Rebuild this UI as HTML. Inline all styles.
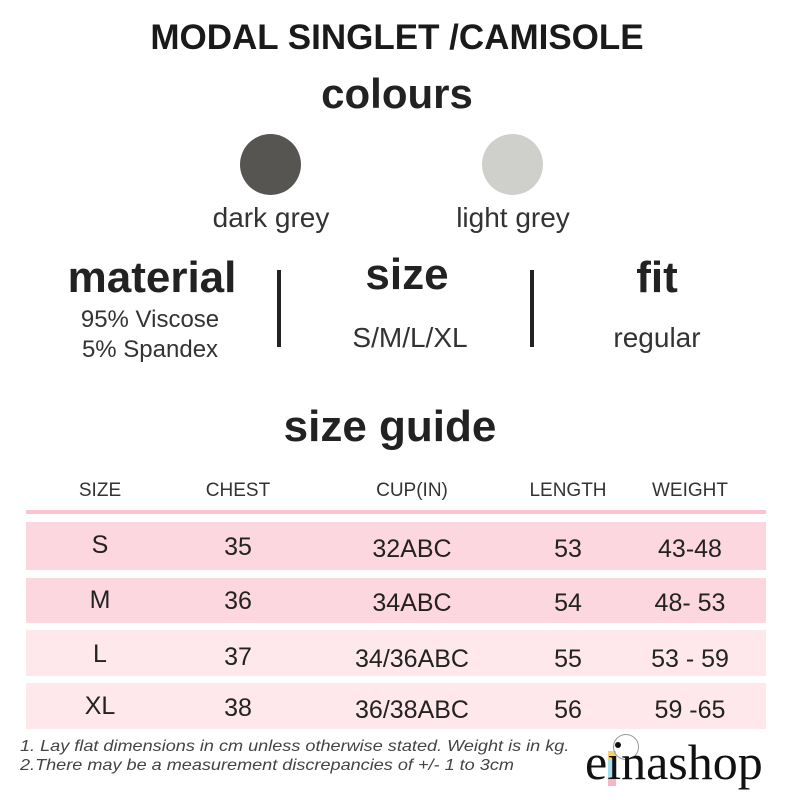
<!DOCTYPE html>
<html><head><meta charset="utf-8"><style>
body{margin:0;width:800px;height:800px;background:#fff;position:relative;overflow:hidden;font-family:"Liberation Sans","DejaVu Sans",sans-serif;color:#222}
.t{position:absolute;white-space:nowrap;text-align:center;transform:translateX(-50%)}
.b{position:absolute;left:26px;width:740px}
.bar{position:absolute;width:4px;background:#222;top:270px;height:77px}
.h{font-size:19px;color:#333;top:480px}
.r{font-size:25px;color:#222}
</style></head><body>
<div class="t" style="left:397px;top:18px;font-size:35px;font-weight:bold;color:#1a1a1a">MODAL SINGLET /CAMISOLE</div>
<div class="t" style="left:397px;top:70px;font-size:42px;font-weight:bold;color:#222">colours</div>
<div style="position:absolute;left:240px;top:134px;width:61px;height:61px;border-radius:50%;background:#575552"></div>
<div style="position:absolute;left:482px;top:134px;width:61px;height:61px;border-radius:50%;background:#cfcfcc"></div>
<div class="t" style="left:271px;top:202px;font-size:28px;color:#333">dark grey</div>
<div class="t" style="left:513px;top:202px;font-size:28px;color:#333">light grey</div>
<div class="t" style="left:152px;top:253px;font-size:44px;font-weight:bold">material</div>
<div class="t" style="left:150px;top:306px;font-size:24px;color:#333">95% Viscose</div>
<div class="t" style="left:150px;top:336px;font-size:24px;color:#333">5% Spandex</div>
<div class="bar" style="left:277px"></div>
<div class="bar" style="left:530px"></div>
<div class="t" style="left:407px;top:250px;font-size:44px;font-weight:bold">size</div>
<div class="t" style="left:410px;top:322px;font-size:28px;color:#333">S/M/L/XL</div>
<div class="t" style="left:657px;top:253px;font-size:44px;font-weight:bold">fit</div>
<div class="t" style="left:657px;top:322px;font-size:28px;color:#333">regular</div>
<div class="t" style="left:390px;top:402px;font-size:44px;font-weight:bold">size guide</div>
<div class="t h" style="left:100px">SIZE</div>
<div class="t h" style="left:238px">CHEST</div>
<div class="t h" style="left:412px">CUP(IN)</div>
<div class="t h" style="left:568px">LENGTH</div>
<div class="t h" style="left:690px">WEIGHT</div>
<div class="b" style="top:510px;height:4px;background:#fac5d1"></div>
<div class="b" style="top:522px;height:48px;background:#fdd7df"></div>
<div class="b" style="top:578px;height:45px;background:#fdd7df"></div>
<div class="b" style="top:630px;height:46px;background:#fee8ec"></div>
<div class="b" style="top:683px;height:46px;background:#fee8ec"></div>
<div class="t r" style="left:100px;top:531px">S</div><div class="t r" style="left:238px;top:533px">35</div><div class="t r" style="left:412px;top:535px">32ABC</div><div class="t r" style="left:568px;top:535px">53</div><div class="t r" style="left:690px;top:535px">43-48</div>
<div class="t r" style="left:100px;top:586px">M</div><div class="t r" style="left:238px;top:587px">36</div><div class="t r" style="left:412px;top:589px">34ABC</div><div class="t r" style="left:568px;top:589px">54</div><div class="t r" style="left:690px;top:589px">48- 53</div>
<div class="t r" style="left:100px;top:640px">L</div><div class="t r" style="left:238px;top:643px">37</div><div class="t r" style="left:412px;top:645px">34/36ABC</div><div class="t r" style="left:568px;top:645px">55</div><div class="t r" style="left:690px;top:645px">53 - 59</div>
<div class="t r" style="left:100px;top:692px">XL</div><div class="t r" style="left:238px;top:694px">38</div><div class="t r" style="left:412px;top:696px">36/38ABC</div><div class="t r" style="left:568px;top:696px">56</div><div class="t r" style="left:690px;top:696px">59 -65</div>
<div style="position:absolute;left:20px;top:737px;font-size:16px;font-style:italic;color:#444;line-height:19px;white-space:nowrap;transform:scaleX(1.13);transform-origin:left top">1. Lay flat dimensions in cm unless otherwise stated. Weight is in kg.<br>2.There may be a measurement discrepancies of +/- 1 to 3cm</div>
<div style="position:absolute;left:608px;top:751px;width:8px;height:8px;background:#f7d26a"></div>
<div style="position:absolute;left:608px;top:759px;width:8px;height:18px;background:#a9def0"></div>
<div style="position:absolute;left:608px;top:777px;width:8px;height:9px;background:#f6b6c6"></div>
<div style="position:absolute;left:613px;top:734px;width:24px;height:24px;border:1px solid #999;border-radius:50%"></div>
<div style="position:absolute;left:585px;top:733px;font-family:'Liberation Serif',serif;font-size:50px;color:#111;letter-spacing:0px">eınashop</div>
<div style="position:absolute;left:615px;top:742px;width:6px;height:6px;border-radius:50%;background:#111"></div>
</body></html>
